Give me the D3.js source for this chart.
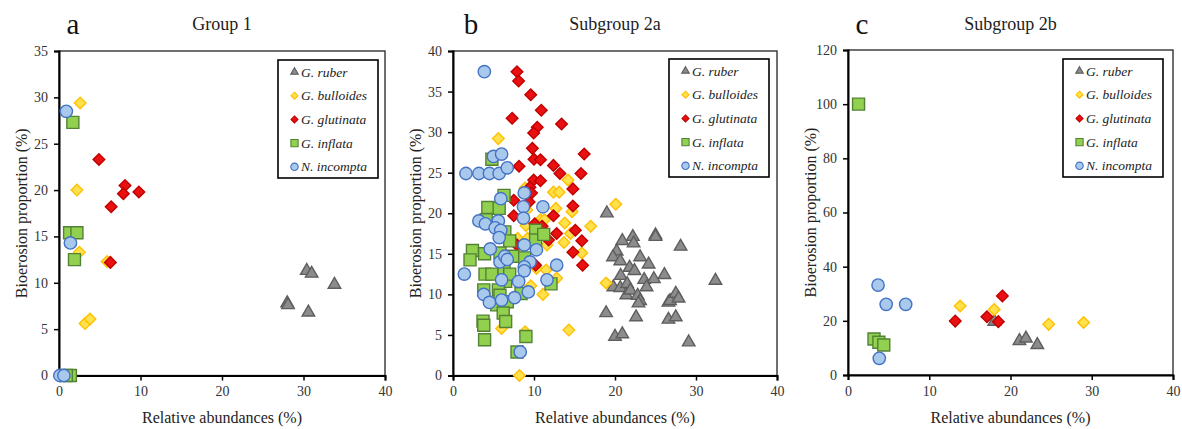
<!DOCTYPE html>
<html>
<head>
<meta charset="utf-8">
<script src="https://cdn.jsdelivr.net/npm/d3@7"></script>
<style>
  body { margin: 0; background: #fff; }
  svg text { font-family: "Times New Roman", "Liberation Serif", "DejaVu Serif", serif; }
</style>
</head>
<body>
<div id="chart"></div>
<script>
// ---- data: [relative abundance %, bioerosion %] ----
const speciesNames = ['G. ruber', 'G. bulloides', 'G. glutinata', 'G. inflata', 'N. incompta'];
const panelLetters = ['a', 'b', 'c'];
const panelTitles = ['Group 1', 'Subgroup 2a', 'Subgroup 2b'];
const xTicks = [0, 10, 20, 30, 40];
const yTicksA = [0, 5, 10, 15, 20, 25, 30, 35];
const yTicksB = [0, 5, 10, 15, 20, 25, 30, 35, 40];
const yTicksC = [0, 20, 40, 60, 80, 100, 120];

const g1Ruber = [[28.0,7.8],[28.1,7.6],[30.4,11.3],[31.0,11.0],[33.8,9.8],[30.6,6.8]];
const g1Bulloides = [[2.6,29.4],[2.2,20.0],[2.5,13.3],[5.9,12.3],[3.2,5.6],[3.8,6.1]];
const g1Glutinata = [[4.9,23.3],[8.1,20.5],[7.9,19.6],[9.8,19.8],[6.4,18.2],[6.3,12.2]];
const g1Inflata = [[1.7,27.3],[1.3,15.4],[2.2,15.4],[1.9,12.5],[1.4,0],[0.9,0]];
const g1Incompta = [[0.9,28.5],[1.4,14.3],[0.1,0],[0.6,0]];

const g2aRuber = [[19.0,20.0],[20.9,16.6],[22.2,17.1],[22.3,16.3],[25.0,17.3],[25.0,17.1],[28.1,15.9],
  [20.2,15.3],[19.75,14.6],[20.65,14.1],[23.1,14.6],[24.15,13.7],[21.8,13.3],[22.4,12.9],[20.7,12.3],
  [26.1,12.4],[23.6,11.8],[24.8,11.9],[32.4,11.7],[19.8,10.9],[20.65,10.8],[21.5,11.3],[21.4,9.9],
  [21.9,10.5],[22.8,9.85],[23.1,9.2],[22.9,8.9],[23.9,10.9],[26.6,9.0],[26.8,9.2],[27.5,10.1],
  [27.85,9.5],[18.9,7.7],[22.6,7.2],[26.6,6.9],[27.5,7.2],[20.0,4.8],[20.9,5.1],[29.1,4.1]];
const g2aBulloides = [[5.6,29.2],[14.2,24.1],[12.4,22.6],[13.1,22.6],[12.7,20.6],[14.7,20.2],[20.1,21.1],
  [8.9,23.1],[9.1,20.4],[9.0,18.5],[10.8,19.2],[11.3,19.2],[13.8,18.8],[17.0,18.4],[14.5,17.5],
  [13.7,16.4],[15.9,15.1],[11.6,16.1],[8.0,16.9],[9.2,16.9],[8.3,15.1],[10.3,13.2],[11.5,13.0],
  [12.8,12.0],[9.6,11.05],[11.1,10.0],[18.9,11.4],[14.3,5.6],[6.0,5.8],[8.9,5.4],[8.2,0]];
const g2aGlutinata = [[7.9,37.45],[8.1,36.3],[9.6,34.6],[10.9,32.7],[7.3,31.7],[10.4,30.6],[9.96,29.9],
  [13.4,31.0],[9.8,28.0],[10.0,26.65],[10.8,26.6],[8.15,25.8],[12.4,25.9],[13.2,24.9],[15.8,24.9],
  [16.2,27.3],[9.96,24.1],[10.8,24.0],[9.5,23.2],[9.7,22.5],[14.8,23.0],[7.5,21.6],[9.4,21.4],
  [14.8,20.9],[12.4,19.7],[7.5,19.7],[10.1,18.7],[11.0,18.4],[15.1,17.9],[12.8,17.5],[11.8,16.7],
  [15.9,16.6],[14.8,15.2],[16.0,13.6],[7.9,16.1],[10.2,13.6]];
const g2aInflata = [[4.8,26.65],[6.3,22.2],[4.3,20.7],[5.7,20.6],[4.1,19.2],[6.4,17.7],[7.0,16.6],
  [2.4,15.4],[2.1,14.25],[3.9,15.0],[5.8,15.1],[7.4,14.7],[3.95,12.5],[4.8,12.5],[6.3,13.1],[6.5,11.6],
  [7.0,12.5],[3.8,10.55],[5.6,10.55],[5.8,9.9],[5.4,8.7],[6.7,9.1],[6.2,7.7],[6.5,6.65],[3.7,6.7],
  [3.8,6.2],[3.9,4.4],[9.0,4.8],[7.9,2.9],[8.4,10.1],[8.85,14.5],[10.2,17.9],[10.2,16.7],[11.2,17.4],[12.1,11.3]];
const g2aIncompta = [[3.87,37.45],[1.6,24.9],[3.2,24.9],[4.5,24.9],[5.7,24.9],[5.0,27.0],[6.0,27.3],
  [6.7,25.6],[5.9,21.8],[8.8,22.5],[8.7,20.8],[8.7,19.4],[11.1,20.8],[3.2,19.05],[4.0,18.7],[5.6,19.05],
  [5.2,18.2],[5.9,17.9],[5.7,17.0],[4.6,15.6],[8.8,16.1],[10.3,15.5],[9.5,14.0],[5.8,14.0],[6.4,14.7],
  [6.7,14.3],[8.8,13.4],[8.8,12.9],[12.8,13.6],[11.6,11.8],[6.0,11.8],[8.1,11.6],[1.4,12.5],[3.8,10.0],
  [4.5,9.0],[6.0,9.3],[7.6,9.6],[9.3,10.3],[8.3,2.9]];

const g2bRuber = [[18.0,19.7],[21.1,12.6],[21.9,13.5],[23.3,11.1]];
const g2bBulloides = [[13.8,25.5],[18.0,24.2],[24.7,18.7],[29.0,19.4]];
const g2bGlutinata = [[13.2,19.9],[17.1,21.5],[18.5,19.7],[19.0,29.2]];
const g2bInflata = [[1.3,100],[3.2,13.3],[3.8,12.1],[4.4,11.1]];
const g2bIncompta = [[3.7,33.2],[4.7,26.1],[7.1,26.1],[3.85,6.15]];

// ---- styles ----
const styles = [
  {type: 'triangle', fill: '#8c8c8c', stroke: '#5e5e5e'},
  {type: 'diamond', fill: '#ffe04d', stroke: '#ffc000'},
  {type: 'diamond', fill: '#e81010', stroke: '#c00000'},
  {type: 'square', fill: '#92d050', stroke: '#548235'},
  {type: 'circle', fill: '#a9c9ec', stroke: '#4472c4'}
];

const serif = '"Times New Roman", "Liberation Serif", "DejaVu Serif", serif';

const panels = [
  {left: 59, right: 385, top: 51, bottom: 375.5, yMax: 35, yTicks: yTicksA, letterX: 73,
   series: [g1Ruber, g1Bulloides, g1Glutinata, g1Inflata, g1Incompta], legend: [278, 60]},
  {left: 453, right: 777, top: 51, bottom: 375.5, yMax: 40, yTicks: yTicksB, letterX: 471,
   series: [g2aRuber, g2aBulloides, g2aGlutinata, g2aInflata, g2aIncompta], legend: [669, 59]},
  {left: 848, right: 1173, top: 50, bottom: 375, yMax: 120, yTicks: yTicksC, letterX: 862,
   series: [g2bRuber, g2bBulloides, g2bGlutinata, g2bInflata, g2bIncompta], legend: [1063, 59]}
];

const svg = d3.select('#chart').append('svg')
  .attr('width', 1182).attr('height', 429)
  .style('font-family', serif);

function markerPath(type, scale) {
  const k = scale || 1;
  if (type === 'triangle') return d3.symbol().type(d3.symbolTriangle).size(68 * k * k)();
  if (type === 'diamond') {
    const r = 5.8 * k;
    return `M0,${-r}L${r},0L0,${r}L${-r},0Z`;
  }
  if (type === 'square') {
    const h = 6 * k;
    return `M${-h},${-h}H${h}V${h}H${-h}Z`;
  }
  return d3.symbol().type(d3.symbolCircle).size(120 * k * k)();
}

panels.forEach((p, pi) => {
  const x = d3.scaleLinear().domain([0, 40]).range([p.left, p.right]);
  const y = d3.scaleLinear().domain([0, p.yMax]).range([p.bottom, p.top]);
  const g = svg.append('g');

  // frame
  g.append('rect')
    .attr('x', p.left).attr('y', p.top)
    .attr('width', p.right - p.left).attr('height', p.bottom - p.top)
    .attr('fill', 'none').attr('stroke', '#222').attr('stroke-width', 1.3);

  // axes
  const ax = g.append('g').attr('transform', `translate(0,${p.bottom})`)
    .call(d3.axisBottom(x).tickValues(xTicks).tickSize(5).tickPadding(6));
  const ay = g.append('g').attr('transform', `translate(${p.left},0)`)
    .call(d3.axisLeft(y).tickValues(p.yTicks).tickSize(5).tickPadding(6));
  [ax, ay].forEach(a => {
    a.attr('font-family', null);
    a.select('.domain').attr('stroke', '#000').attr('stroke-width', 2);
    a.selectAll('.tick line').attr('stroke', '#000').attr('stroke-width', 1.5);
    a.selectAll('text').attr('fill', '#333').style('font-size', '14px')
      .style('font-family', serif);
  });

  // titles
  g.append('text').attr('x', p.letterX).attr('y', 34)
    .attr('text-anchor', 'middle').style('font-size', '29px').attr('fill', '#111')
    .text(panelLetters[pi]);
  g.append('text').attr('x', (p.left + p.right) / 2).attr('y', 30)
    .attr('text-anchor', 'middle').style('font-size', '18px').attr('fill', '#222')
    .text(panelTitles[pi]);
  g.append('text').attr('x', (p.left + p.right) / 2).attr('y', 423)
    .attr('text-anchor', 'middle').style('font-size', '16px').attr('fill', '#222')
    .text('Relative abundances (%)');
  g.append('text')
    .attr('transform', `translate(${p.left - 32},${(p.top + p.bottom) / 2}) rotate(-90)`)
    .attr('text-anchor', 'middle').style('font-size', '16px').attr('fill', '#222')
    .text('Bioerosion proportion (%)');

  // points
  p.series.forEach((pts, si) => {
    const st = styles[si];
    g.append('g').selectAll('path')
      .data(pts)
      .enter().append('path')
      .attr('d', markerPath(st.type))
      .attr('transform', d => `translate(${x(d[0])},${y(d[1])})`)
      .attr('fill', st.fill)
      .attr('stroke', st.stroke)
      .attr('stroke-width', 1.4);
  });

  // legend
  const [lx, ly] = p.legend;
  const lg = g.append('g').attr('transform', `translate(${lx},${ly})`);
  lg.append('rect').attr('width', 100).attr('height', 118)
    .attr('fill', '#fff').attr('stroke', '#000').attr('stroke-width', 1.6);
  speciesNames.forEach((name, si) => {
    const st = styles[si];
    const yy = 12 + si * 23.7;
    lg.append('path').attr('d', markerPath(st.type, 0.6))
      .attr('transform', `translate(16.5,${yy})`)
      .attr('fill', st.fill).attr('stroke', st.stroke).attr('stroke-width', 1.1);
    lg.append('text').attr('x', 23).attr('y', yy + 4.5)
      .style('font-size', '13.5px').style('font-style', 'italic').attr('fill', '#222')
      .text(name);
  });
});
</script>
</body>
</html>
